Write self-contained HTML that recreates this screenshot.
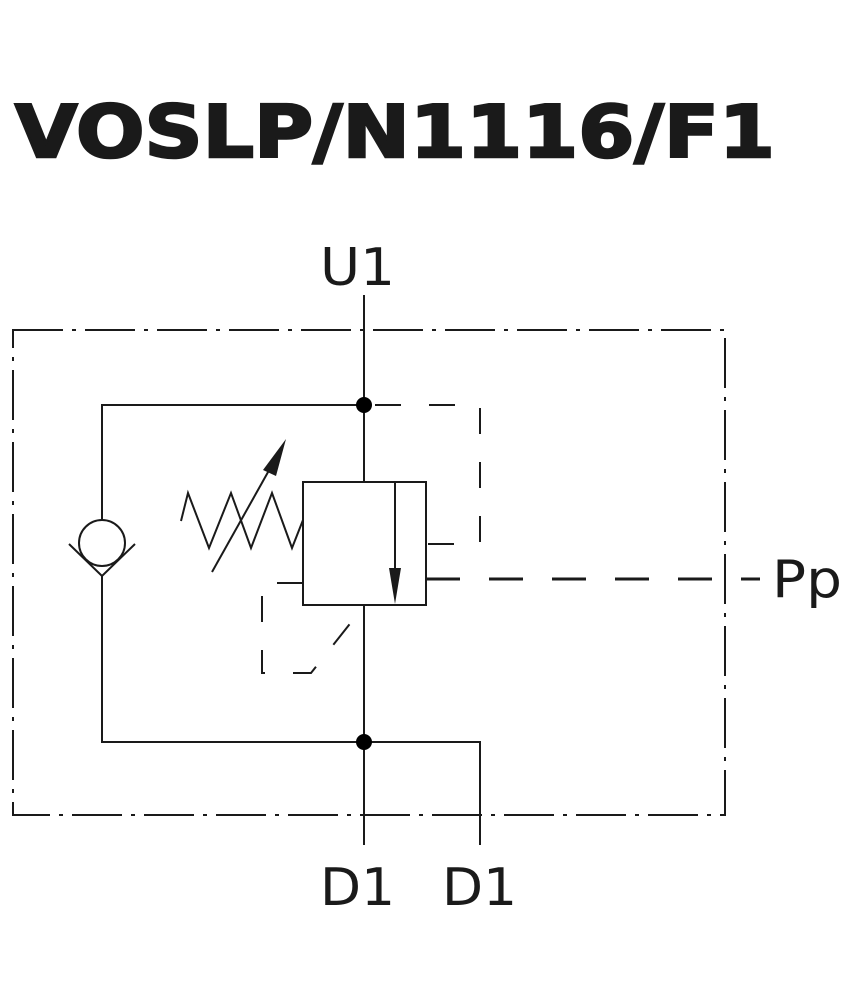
<!DOCTYPE html>
<html><head><style>html,body{margin:0;padding:0;background:#fff;}svg{display:block}</style></head>
<body>
<svg width="850" height="1000" viewBox="0 0 850 1000" xmlns="http://www.w3.org/2000/svg">
<text x="15" y="157" font-family="DejaVu Sans, sans-serif" font-weight="bold" font-size="72" fill="#1a1a1a" stroke="#1a1a1a" stroke-width="2.5" textLength="760" lengthAdjust="spacingAndGlyphs">VOSLP/N1116/F1</text>
<g font-family="DejaVu Sans, sans-serif" font-size="52" fill="#1a1a1a">
<text x="320" y="285" textLength="75" lengthAdjust="spacingAndGlyphs">U1</text>
<text x="320" y="905" textLength="75" lengthAdjust="spacingAndGlyphs">D1</text>
<text x="442" y="905" textLength="75" lengthAdjust="spacingAndGlyphs">D1</text>
<text x="772" y="597" textLength="70" lengthAdjust="spacingAndGlyphs">Pp</text>
</g>
<g fill="none" stroke="#1a1a1a" stroke-width="2">
<rect x="13" y="330" width="712" height="485" stroke-dasharray="50,9,4,9"/>
<line x1="364" y1="295" x2="364" y2="482"/>
<line x1="364" y1="605" x2="364" y2="845"/>
<polyline points="364,405 102,405 102,520"/>
<polyline points="102,576 102,742 480,742 480,845"/>
<circle cx="102" cy="543" r="23"/>
<polyline points="69,544 102,576 135,544"/>
<rect x="303" y="482" width="123" height="123"/>
<line x1="395" y1="482" x2="395" y2="580"/>
<polyline points="181,521 188,493 209,548 231,493 251,548 272,493 292,548 303,520"/>
<line x1="212" y1="572" x2="272" y2="465"/>
<g stroke-dasharray="26,28">
<polyline points="375,405 480,405 480,544 426,544"/>
<polyline points="303,583 262,583 262,673 311,673 364,606"/>
</g>
<line x1="426" y1="579" x2="760" y2="579" stroke-width="3" stroke-dasharray="34,29"/>
</g>
<polygon points="286,439 263,470 276,476" fill="#1a1a1a"/>
<polygon points="389,568 401,568 395,604" fill="#1a1a1a"/>
<circle cx="364" cy="405" r="8" fill="#000"/>
<circle cx="364" cy="742" r="8" fill="#000"/>
</svg>
</body></html>
